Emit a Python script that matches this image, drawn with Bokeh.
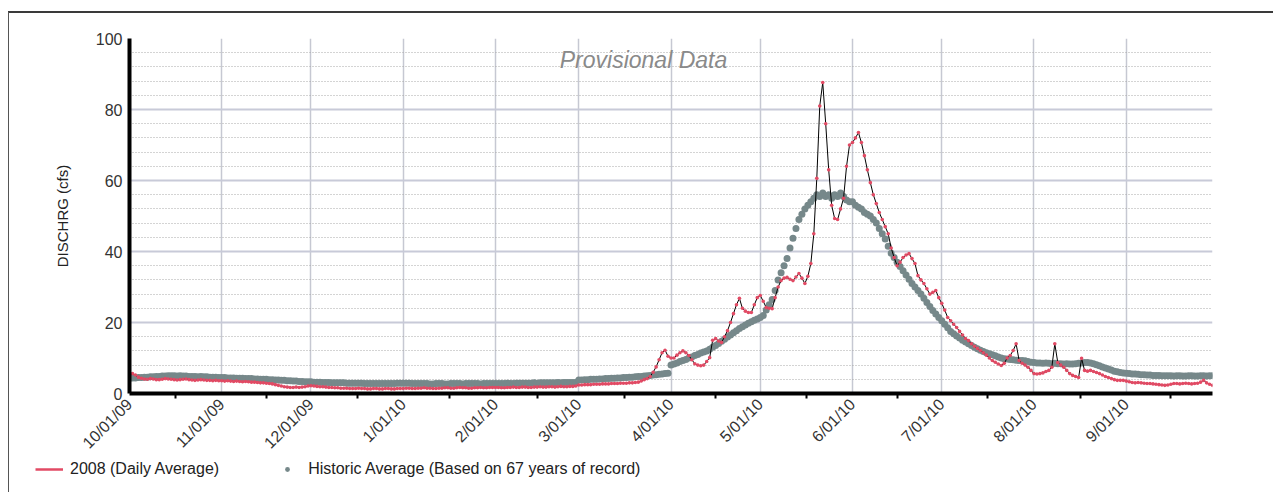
import numpy as np
from math import pi
from bokeh.plotting import figure
from bokeh.layouts import column
from bokeh.models import (Range1d, FixedTicker, Label, Legend, LegendItem,
                          ColumnDataSource, InlineStyleSheet)
from bokeh.embed import file_html
from bokeh.resources import INLINE

# ---------------- data ----------------
month_labels = ["10/01/09", "11/01/09", "12/01/09", "1/01/10", "2/01/10", "3/01/10",
                "4/01/10", "5/01/10", "6/01/10", "7/01/10", "8/01/10", "9/01/10"]
month_days = [31, 30, 31, 31, 28, 31, 30, 31, 30, 31, 31, 30]

# 2008 (Daily Average), cfs, one value per day, Oct..Sep
d_oct = [4.8, 5.6, 5.2, 4.6, 4.3, 4.1, 4.0, 4.2, 4.1, 3.9, 3.9, 4.0, 4.2, 4.1, 4.0, 3.9,
         3.8, 3.9, 4.0, 4.1, 3.9, 3.8, 3.7, 3.8, 3.9, 3.8, 3.7, 3.7, 3.6, 3.7, 3.6]
d_nov = [3.6, 3.5, 3.6, 3.5, 3.4, 3.5, 3.4, 3.3, 3.4, 3.3, 3.2, 3.2, 3.1, 3.0, 3.0,
         2.9, 2.8, 2.7, 2.5, 2.3, 2.1, 1.9, 1.8, 1.7, 1.7, 1.8, 1.7, 1.8, 1.9, 2.1]
d_dec = [2.2, 2.1, 2.0, 1.9, 1.9, 1.8, 1.7, 1.7, 1.6, 1.6, 1.5, 1.5, 1.5, 1.4, 1.4, 1.4,
         1.5, 1.4, 1.4, 1.3, 1.3, 1.4, 1.4, 1.3, 1.3, 1.4, 1.4, 1.3, 1.3, 1.4, 1.4]
d_jan = [1.4, 1.5, 1.5, 1.4, 1.4, 1.5, 1.5, 1.6, 1.5, 1.5, 1.4, 1.4, 1.5, 1.5, 1.6, 1.6,
         1.5, 1.5, 1.6, 1.7, 1.6, 1.6, 1.5, 1.5, 1.6, 1.6, 1.7, 1.6, 1.6, 1.7, 1.7]
d_feb = [1.7, 1.7, 1.6, 1.6, 1.7, 1.7, 1.8, 1.7, 1.7, 1.8, 1.8, 1.7, 1.7, 1.8,
         1.8, 1.9, 1.8, 1.8, 1.9, 1.9, 1.8, 1.9, 2.0, 1.9, 1.9, 2.0, 2.0, 2.1]
d_mar = [2.4, 2.4, 2.5, 2.5, 2.5, 2.6, 2.6, 2.6, 2.7, 2.7, 2.7, 2.8, 2.8, 2.8, 2.9, 2.9,
         2.9, 3.0, 3.0, 3.1, 3.2, 3.5, 3.9, 4.2, 4.8, 6.0, 7.5, 9.5, 11.5, 12.2, 10.5]
d_apr = [10.0, 10.0, 10.8, 11.5, 12.0, 11.5, 10.7, 9.5, 8.4, 8.0, 7.8, 8.0, 9.0, 10.1, 15.0,
         15.5, 14.8, 14.4, 16.0, 17.7, 20.0, 22.5, 25.0, 26.8, 24.0, 23.2, 22.8, 22.8, 25.0, 27.0]
d_may = [27.6, 26.0, 24.2, 24.0, 23.9, 27.0, 30.0, 31.8, 32.5, 32.7, 32.2, 31.8, 32.8, 33.8,
         32.5, 31.0, 33.0, 36.6, 45.0, 60.6, 81.0, 87.6, 76.0, 63.0, 53.0, 49.3, 49.0, 52.0,
         55.0, 64.0, 70.0]
d_jun = [70.7, 72.0, 73.5, 70.7, 67.0, 63.0, 59.4, 56.0, 53.5, 51.0, 49.0, 47.0, 45.0, 41.0,
         38.3, 36.0, 37.0, 38.3, 39.0, 39.4, 38.0, 36.6, 33.2, 32.0, 31.0, 29.5, 28.0, 28.5,
         29.0, 27.0]
d_jul = [25.4, 23.5, 21.4, 20.5, 19.5, 18.6, 17.5, 16.5, 15.5, 14.9, 14.0, 13.3, 12.7, 12.1,
         11.5, 10.8, 10.0, 9.3, 8.8, 8.3, 7.9, 8.5, 10.0, 10.7, 12.1, 14.0, 9.3, 8.5, 8.0, 7.4, 6.5]
d_aug = [5.6, 5.5, 5.6, 5.8, 6.2, 6.5, 7.4, 14.0, 8.7, 8.0, 7.4, 6.5, 5.6, 5.1, 4.8, 4.5,
         9.9, 6.5, 6.3, 6.5, 6.2, 5.9, 5.6, 5.2, 4.8, 4.5, 4.2, 3.9, 3.7, 3.7, 3.7]
d_sep = [3.5, 3.3, 3.1, 3.0, 3.1, 3.0, 2.9, 2.8, 2.8, 2.7, 2.6, 2.5, 2.4, 2.3, 2.4,
         2.6, 2.8, 2.8, 2.7, 2.8, 2.9, 2.8, 2.7, 2.8, 2.9, 3.2, 3.7, 3.0, 2.6, 2.3]

# Historic Average (Based on 67 years of record), cfs
h_oct = [4.3, 4.4, 4.4, 4.5, 4.5, 4.6, 4.6, 4.7, 4.7, 4.8, 4.8, 4.9, 4.9, 5.0, 5.0, 5.0,
         4.9, 5.0, 4.9, 4.9, 4.8, 4.8, 4.8, 4.7, 4.8, 4.7, 4.7, 4.6, 4.6, 4.6, 4.5]
h_nov = [4.5, 4.5, 4.4, 4.4, 4.4, 4.3, 4.3, 4.3, 4.2, 4.2, 4.2, 4.1, 4.1, 4.0, 4.0,
         4.0, 3.9, 3.9, 3.8, 3.8, 3.7, 3.7, 3.6, 3.6, 3.5, 3.5, 3.4, 3.4, 3.3, 3.3]
h_dec = [3.3, 3.2, 3.2, 3.2, 3.1, 3.1, 3.1, 3.0, 3.0, 3.0, 3.0, 3.0, 2.9, 2.9, 2.9, 2.9,
         2.9, 2.9, 2.8, 2.8, 2.8, 2.8, 2.8, 2.8, 2.8, 2.8, 2.8, 2.8, 2.8, 2.9, 2.9]
h_jan = [2.9, 2.9, 2.9, 2.8, 2.8, 2.8, 2.8, 2.8, 2.8, 2.7, 2.7, 2.8, 2.8, 2.8, 2.7, 2.7,
         2.8, 2.8, 2.8, 2.8, 2.7, 2.8, 2.8, 2.8, 2.8, 2.8, 2.7, 2.8, 2.8, 2.8, 2.8]
h_feb = [2.8, 2.8, 2.8, 2.8, 2.9, 2.8, 2.8, 2.9, 2.9, 2.9, 2.9, 2.9, 2.9, 3.0,
         2.9, 3.0, 3.0, 3.0, 3.0, 3.0, 3.0, 3.1, 3.0, 3.1, 3.1, 3.1, 3.1, 3.1]
h_mar = [3.8, 3.8, 3.9, 3.9, 4.0, 4.0, 4.0, 4.1, 4.1, 4.2, 4.2, 4.3, 4.3, 4.4, 4.4, 4.5,
         4.5, 4.6, 4.6, 4.7, 4.8, 4.8, 4.9, 5.0, 5.1, 5.2, 5.3, 5.4, 5.5, 5.6, 5.7]
h_apr = [8.0, 8.3, 8.6, 9.0, 9.3, 9.6, 10.0, 10.3, 10.7, 11.0, 11.4, 11.7, 12.0, 12.5, 13.0,
         13.5, 14.1, 14.7, 15.3, 15.9, 16.5, 17.1, 17.7, 18.3, 18.8, 19.3, 19.8, 20.2, 20.6, 21.0]
h_may = [21.4, 22.0, 23.5, 25.0, 26.5, 29.0, 32.0, 34.0, 36.0, 38.0, 41.0, 43.7, 46.5, 49.0,
         50.5, 52.0, 53.0, 54.0, 55.0, 56.0, 55.5, 56.5, 55.5, 56.0, 55.0, 56.0, 55.5, 56.5,
         55.5, 54.5, 54.0]
h_jun = [54.0, 53.0, 52.5, 52.0, 51.0, 50.5, 50.0, 49.0, 48.0, 46.5, 45.0, 43.5, 41.5, 39.5,
         38.3, 37.0, 35.8, 34.6, 33.4, 32.2, 31.0, 30.0, 29.0, 28.0, 26.8, 25.6, 24.5, 23.4,
         22.4, 21.4]
h_jul = [20.5, 19.5, 18.5, 17.5, 16.8, 16.2, 15.6, 15.0, 14.5, 14.0, 13.5, 13.0, 12.6, 12.2,
         11.8, 11.5, 11.2, 10.9, 10.6, 10.3, 10.0, 9.8, 9.7, 9.6, 9.5, 9.4, 9.3, 9.3, 9.2, 9.0, 8.8]
h_aug = [8.7, 8.6, 8.6, 8.5, 8.6, 8.5, 8.4, 8.5, 8.4, 8.4, 8.3, 8.4, 8.3, 8.3, 8.4, 8.5,
         8.6, 8.7, 8.7, 8.6, 8.4, 8.1, 7.8, 7.5, 7.2, 6.9, 6.6, 6.3, 6.1, 5.9, 5.8]
h_sep = [5.7, 5.6, 5.5, 5.5, 5.4, 5.3, 5.3, 5.2, 5.2, 5.1, 5.1, 5.1, 5.0, 5.0, 5.0,
         5.0, 4.9, 5.0, 5.0, 4.9, 4.9, 5.0, 5.0, 4.9, 4.9, 5.0, 5.0, 4.9, 5.0, 5.0]

daily_2008 = (d_oct + d_nov + d_dec + d_jan + d_feb + d_mar +
              d_apr + d_may + d_jun + d_jul + d_aug + d_sep)
historic = (h_oct + h_nov + h_dec + h_jan + h_feb + h_mar +
            h_apr + h_may + h_jun + h_jul + h_aug + h_sep)

series_labels = ["2008 (Daily Average)", "Historic Average (Based on 67 years of record)"]

# ---------------- layout constants ----------------
W, H = 1273, 492
LEG_H = 32                 # strip under the chart holding the legend
MH = H - LEG_H             # main figure height
FL, FR, FT, FB = 129, 1212, 38, 393
RED = "#e24a64"
GREY = "#76888a"
FONT = "Liberation Sans"

n = len(daily_2008)
day = np.arange(n)
starts = np.concatenate([[0], np.cumsum(month_days)[:-1]]).astype(int)
ends = list(starts[1:]) + [n]
mids = [(a + b) / 2 for a, b in zip(starts, ends)]

src = ColumnDataSource(dict(day=day, q2008=daily_2008, hist=historic))

p = figure(width=W, height=MH, output_backend="svg", toolbar_location=None,
           x_range=Range1d(0, n - 1), y_range=Range1d(0, 100),
           min_border_left=FL, min_border_right=W - FR,
           min_border_top=FT, min_border_bottom=MH - FB)
p.outline_line_color = None
p.background_fill_color = "white"
p.border_fill_color = "white"

# grids
p.xaxis.ticker = FixedTicker(ticks=[int(s) for s in starts], minor_ticks=mids)
p.yaxis.ticker = FixedTicker(ticks=[0, 20, 40, 60, 80, 100],
                             minor_ticks=[v for v in range(0, 101, 4) if v % 20])
p.xgrid.grid_line_color = "#c6c8d2"
p.xgrid.grid_line_width = 1.5
p.ygrid.grid_line_color = "#c8cad8"
p.ygrid.grid_line_width = 2
p.ygrid.minor_grid_line_color = "#a9a9a9"
p.ygrid.minor_grid_line_dash = "1 2"
p.ygrid.minor_grid_line_width = 1

# axes
p.xaxis.major_label_overrides = {int(s): lab for s, lab in zip(starts, month_labels)}
p.xaxis.major_label_orientation = pi / 4
p.xaxis.axis_line_width = 4
p.xaxis.axis_line_color = "black"
p.xaxis.major_tick_line_color = None
p.xaxis.major_tick_out = 0
p.xaxis.major_tick_in = 0
p.xaxis.minor_tick_line_color = "black"
p.xaxis.minor_tick_line_width = 2
p.xaxis.minor_tick_out = 5
p.xaxis.minor_tick_in = 0
p.xaxis.major_label_standoff = 3
p.xaxis.major_label_text_font = FONT
p.xaxis.major_label_text_font_size = "16px"
p.xaxis.major_label_text_color = "#333333"

p.yaxis.axis_line_width = 4
p.yaxis.axis_line_color = "black"
p.yaxis.major_tick_line_color = None
p.yaxis.minor_tick_line_color = None
p.yaxis.major_tick_out = 0
p.yaxis.major_tick_in = 0
p.yaxis.major_label_standoff = 3
p.yaxis.major_label_text_font = FONT
p.yaxis.major_label_text_font_size = "16px"
p.yaxis.major_label_text_color = "#333333"
p.yaxis.axis_label = "DISCHRG (cfs)"
p.yaxis.axis_label_text_font = FONT
p.yaxis.axis_label_text_font_size = "15px"
p.yaxis.axis_label_text_font_style = "normal"
p.yaxis.axis_label_text_color = "#222222"
p.yaxis.axis_label_standoff = 22

# data
p.scatter("day", "hist", source=src, size=7, marker="circle",
          fill_color=GREY, line_color=None)
p.line("day", "q2008", source=src, line_color="black", line_width=1)
p.scatter("day", "q2008", source=src, size=3.6, marker="circle",
          fill_color=RED, line_color=None)

# watermark
p.add_layout(Label(x=643 - FL, y=FB - 72, x_units="screen", y_units="screen",
                   text="Provisional Data", text_align="center", text_font=FONT,
                   text_font_style="italic", text_font_size="23px", text_color="#8a8a8a"))

# ---------------- legend strip ----------------
lg = figure(width=W, height=LEG_H, output_backend="svg", toolbar_location=None,
            x_axis_type=None, y_axis_type=None, min_border=0,
            min_border_left=0, min_border_right=0, min_border_top=0, min_border_bottom=0,
            x_range=Range1d(0, 1), y_range=Range1d(0, 1))
lg.outline_line_color = None
lg.xgrid.visible = False
lg.ygrid.visible = False
lg.background_fill_color = "white"
lg.border_fill_color = "white"
for fig in (p, lg):
    try:
        fig.frame_align = False
    except Exception:
        pass

# swatch renderers: one NaN point each, so nothing shows except the legend glyph
sw_line = lg.line(x=[np.nan], y=[np.nan], line_color=RED, line_width=2.5)
sw_dot = lg.scatter(x=[np.nan], y=[np.nan], size=5, marker="circle",
                    fill_color=GREY, line_color=None)
legend = Legend(items=[LegendItem(label=series_labels[0], renderers=[sw_line]),
                       LegendItem(label=series_labels[1], renderers=[sw_dot])],
                orientation="horizontal", location=(35, LEG_H - 18),
                border_line_color=None, background_fill_alpha=0,
                padding=0, margin=0, spacing=54, glyph_width=28, glyph_height=12,
                label_standoff=7, label_text_font=FONT, label_text_font_size="16px",
                label_text_color="#222222")
lg.add_layout(legend)

page = column(p, lg, spacing=0)
# page border lines of the source document (pure decoration, CSS)
page.stylesheets = [InlineStyleSheet(css="""
:host { position: relative; }
:host::before { content: ""; position: absolute; left: 8px; top: 11px;
                width: 1265px; height: 2px; background: #3a3a3a; z-index: 10; }
:host::after  { content: ""; position: absolute; left: 8px; top: 12px;
                width: 1px; height: 480px; background: #555555; z-index: 10; }
""")]

open("out.html", "w").write(file_html(page, INLINE))
